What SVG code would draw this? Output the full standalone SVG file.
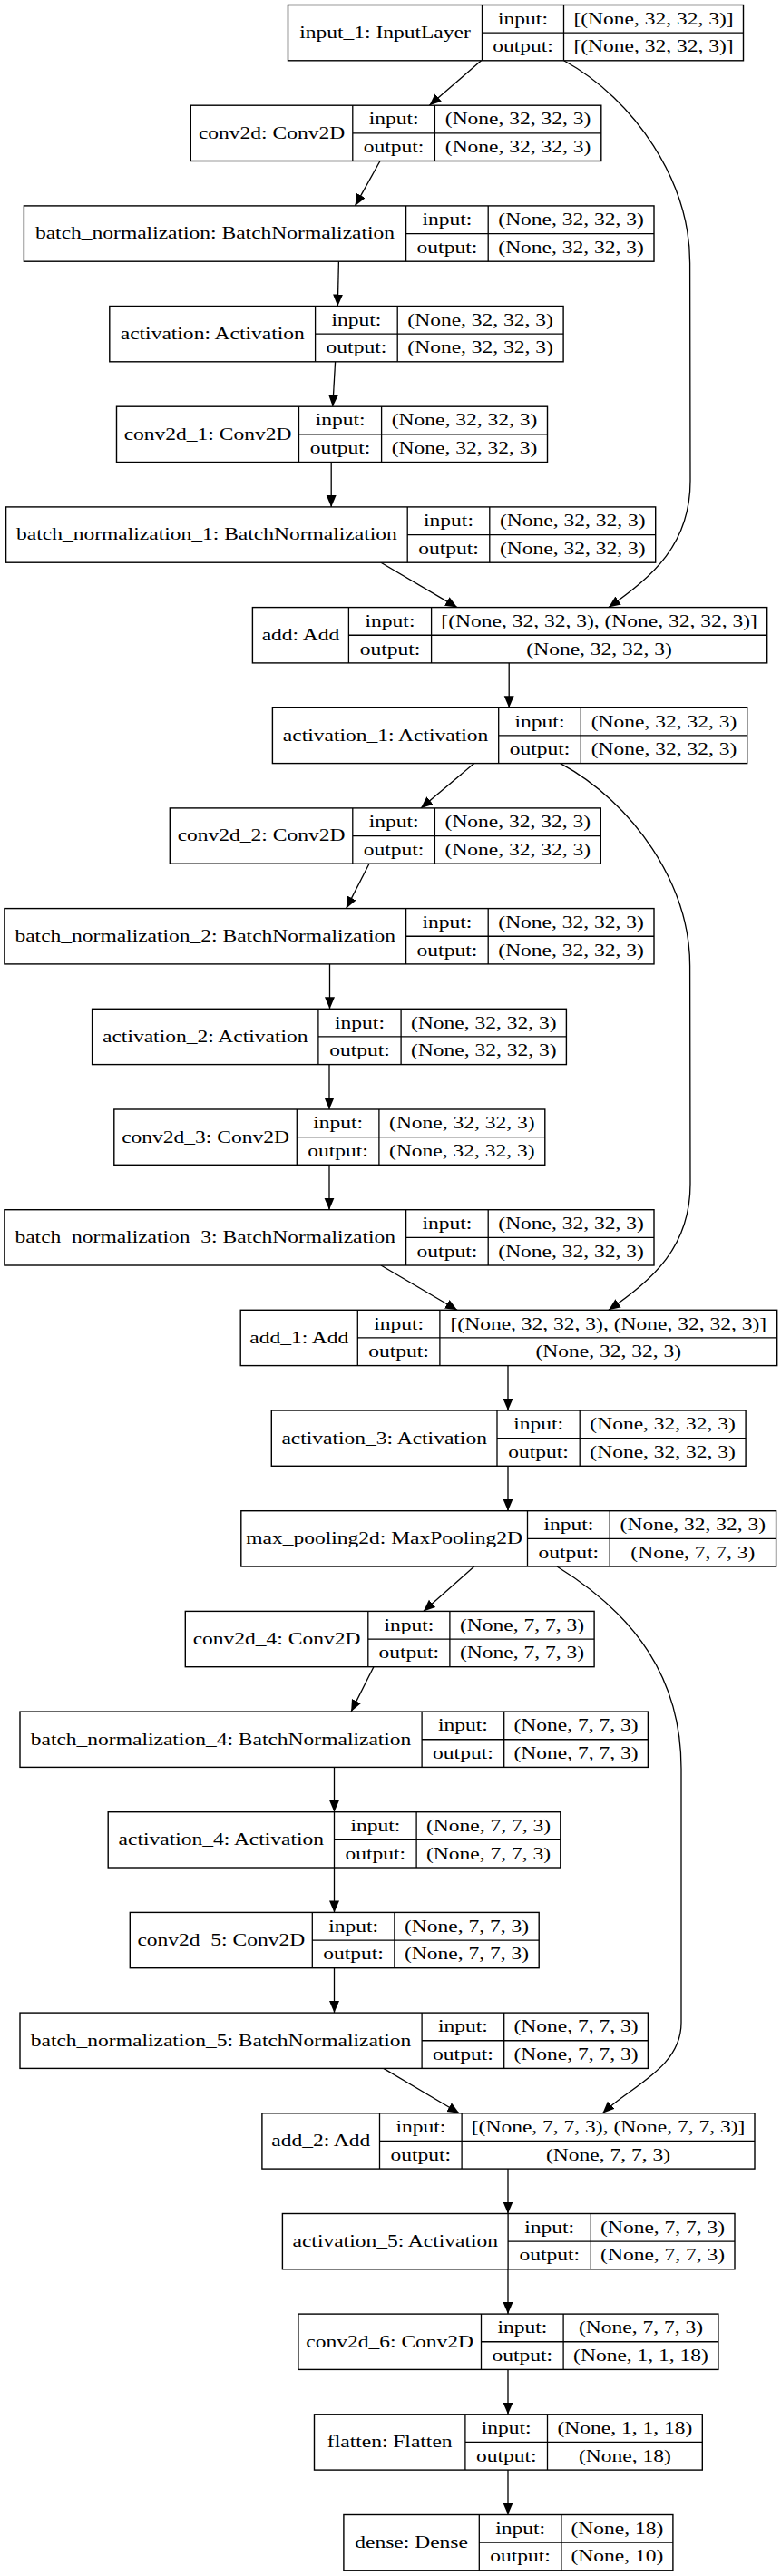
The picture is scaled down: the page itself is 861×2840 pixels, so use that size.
<svg xmlns="http://www.w3.org/2000/svg" width="861" height="2840" viewBox="0 0 861 2840">
<style>
.n rect{fill:#fff;stroke:#000;stroke-width:1.4}
.n path{fill:none;stroke:#000;stroke-width:1.3}
text{font-family:"Liberation Serif","Times New Roman",serif;font-size:19.2px;text-anchor:middle;fill:#000}
#edges path{fill:none;stroke:#000;stroke-width:1.3;marker-end:url(#ah)}
</style>
<defs>
<marker id="ah" markerWidth="14" markerHeight="12" refX="13" refY="5.5" orient="auto" markerUnits="userSpaceOnUse"><path d="M0,0L13,5.5L0,11z" fill="#000"/></marker>
</defs>
<rect width="861" height="2840" fill="#fff"/>
<g id="edges">
<path d="M530.5,66.8L473.4,116.2"/>
<path d="M621.6,66.8C700,110 760.6,200 760.6,290L761,530C761,600 720,635 671,669.6"/>
<path d="M419,177.5L391.5,226.9"/>
<path d="M373.4,288.2L372.3,337.5"/>
<path d="M369.6,398.8L366.8,448.2"/>
<path d="M365.2,509.5L365.2,558.9"/>
<path d="M420,620.2L504,669.6"/>
<path d="M561.2,730.9L561.2,780.3"/>
<path d="M522.8,841.6L464,890.9"/>
<path d="M617.8,841.6C698,885 760.6,975 760.6,1065L761,1305C761,1375 720,1410 671,1444.3"/>
<path d="M407,952.2L381.7,1001.6"/>
<path d="M363.5,1062.9L363.5,1112.3"/>
<path d="M363,1173.6L363,1223"/>
<path d="M363,1284.3L363,1333.7"/>
<path d="M420,1395L504,1444.3"/>
<path d="M560,1505.6L560,1555"/>
<path d="M560,1616.3L560,1665.7"/>
<path d="M522.8,1727L466.8,1776.4"/>
<path d="M614,1727C700,1780 751,1850 751,1950L751,2230C751,2280 695,2300 664.4,2329.8"/>
<path d="M411.9,1837.7L387.1,1887.1"/>
<path d="M368.5,1948.4L368.5,1997.7"/>
<path d="M368.5,2059L368.5,2108.4"/>
<path d="M368.5,2169.7L368.5,2219.1"/>
<path d="M422.8,2280.4L506.3,2329.8"/>
<path d="M560,2391.1L560,2440.5"/>
<path d="M560,2501.8L560,2551.1"/>
<path d="M560,2612.4L560,2661.8"/>
<path d="M560,2723.1L560,2772.5"/>
</g>
<g id="input_1" class="n" transform="translate(0,5.5)"><rect x="317.5" y="0" width="502" height="61.3"/><path d="M531.5,0V61.3M621.5,0V61.3M531.5,30.65H819.5"/>
<text transform="translate(424.5,36.5) scale(1.225,1)">input_1: InputLayer</text><text transform="translate(576.5,21.2) scale(1.225,1)">input:</text><text transform="translate(576.5,51.9) scale(1.225,1)">output:</text><text transform="translate(720.5,21.2) scale(1.225,1)">[(None, 32, 32, 3)]</text><text transform="translate(720.5,51.9) scale(1.225,1)">[(None, 32, 32, 3)]</text></g>
<g id="conv2d" class="n" transform="translate(0,116.2)"><rect x="210.3" y="0" width="452.5" height="61.3"/><path d="M388.8,0V61.3M479.4,0V61.3M388.8,30.65H662.8"/>
<text transform="translate(299.55,36.5) scale(1.225,1)">conv2d: Conv2D</text><text transform="translate(434.1,21.2) scale(1.225,1)">input:</text><text transform="translate(434.1,51.9) scale(1.225,1)">output:</text><text transform="translate(571.1,21.2) scale(1.225,1)">(None, 32, 32, 3)</text><text transform="translate(571.1,51.9) scale(1.225,1)">(None, 32, 32, 3)</text></g>
<g id="batch_normalization" class="n" transform="translate(0,226.9)"><rect x="26.4" y="0" width="694.6" height="61.3"/><path d="M447.6,0V61.3M538.2,0V61.3M447.6,30.65H721"/>
<text transform="translate(237,36.5) scale(1.225,1)">batch_normalization: BatchNormalization</text><text transform="translate(492.9,21.2) scale(1.225,1)">input:</text><text transform="translate(492.9,51.9) scale(1.225,1)">output:</text><text transform="translate(629.6,21.2) scale(1.225,1)">(None, 32, 32, 3)</text><text transform="translate(629.6,51.9) scale(1.225,1)">(None, 32, 32, 3)</text></g>
<g id="activation" class="n" transform="translate(0,337.5)"><rect x="120.8" y="0" width="500.3" height="61.3"/><path d="M347.6,0V61.3M438.2,0V61.3M347.6,30.65H621.1"/>
<text transform="translate(234.2,36.5) scale(1.225,1)">activation: Activation</text><text transform="translate(392.9,21.2) scale(1.225,1)">input:</text><text transform="translate(392.9,51.9) scale(1.225,1)">output:</text><text transform="translate(529.65,21.2) scale(1.225,1)">(None, 32, 32, 3)</text><text transform="translate(529.65,51.9) scale(1.225,1)">(None, 32, 32, 3)</text></g>
<g id="conv2d_1" class="n" transform="translate(0,448.2)"><rect x="128.5" y="0" width="475" height="61.3"/><path d="M329.5,0V61.3M420.6,0V61.3M329.5,30.65H603.5"/>
<text transform="translate(229,36.5) scale(1.225,1)">conv2d_1: Conv2D</text><text transform="translate(375.05,21.2) scale(1.225,1)">input:</text><text transform="translate(375.05,51.9) scale(1.225,1)">output:</text><text transform="translate(512.05,21.2) scale(1.225,1)">(None, 32, 32, 3)</text><text transform="translate(512.05,51.9) scale(1.225,1)">(None, 32, 32, 3)</text></g>
<g id="batch_normalization_1" class="n" transform="translate(0,558.9)"><rect x="6.6" y="0" width="716.1" height="61.3"/><path d="M449.2,0V61.3M539.8,0V61.3M449.2,30.65H722.7"/>
<text transform="translate(227.9,36.5) scale(1.225,1)">batch_normalization_1: BatchNormalization</text><text transform="translate(494.5,21.2) scale(1.225,1)">input:</text><text transform="translate(494.5,51.9) scale(1.225,1)">output:</text><text transform="translate(631.25,21.2) scale(1.225,1)">(None, 32, 32, 3)</text><text transform="translate(631.25,51.9) scale(1.225,1)">(None, 32, 32, 3)</text></g>
<g id="add" class="n" transform="translate(0,669.6)"><rect x="278.4" y="0" width="567.3" height="61.3"/><path d="M384.4,0V61.3M475.6,0V61.3M384.4,30.65H845.7"/>
<text transform="translate(331.4,36.5) scale(1.225,1)">add: Add</text><text transform="translate(430,21.2) scale(1.225,1)">input:</text><text transform="translate(430,51.9) scale(1.225,1)">output:</text><text transform="translate(660.65,21.2) scale(1.225,1)">[(None, 32, 32, 3), (None, 32, 32, 3)]</text><text transform="translate(660.65,51.9) scale(1.225,1)">(None, 32, 32, 3)</text></g>
<g id="activation_1" class="n" transform="translate(0,780.3)"><rect x="300.4" y="0" width="523.3" height="61.3"/><path d="M549.7,0V61.3M640.3,0V61.3M549.7,30.65H823.7"/>
<text transform="translate(425.05,36.5) scale(1.225,1)">activation_1: Activation</text><text transform="translate(595,21.2) scale(1.225,1)">input:</text><text transform="translate(595,51.9) scale(1.225,1)">output:</text><text transform="translate(732,21.2) scale(1.225,1)">(None, 32, 32, 3)</text><text transform="translate(732,51.9) scale(1.225,1)">(None, 32, 32, 3)</text></g>
<g id="conv2d_2" class="n" transform="translate(0,890.9)"><rect x="187.3" y="0" width="475" height="61.3"/><path d="M388.8,0V61.3M479.4,0V61.3M388.8,30.65H662.3"/>
<text transform="translate(288.05,36.5) scale(1.225,1)">conv2d_2: Conv2D</text><text transform="translate(434.1,21.2) scale(1.225,1)">input:</text><text transform="translate(434.1,51.9) scale(1.225,1)">output:</text><text transform="translate(570.85,21.2) scale(1.225,1)">(None, 32, 32, 3)</text><text transform="translate(570.85,51.9) scale(1.225,1)">(None, 32, 32, 3)</text></g>
<g id="batch_normalization_2" class="n" transform="translate(0,1001.6)"><rect x="4.9" y="0" width="716.1" height="61.3"/><path d="M447.6,0V61.3M538.2,0V61.3M447.6,30.65H721"/>
<text transform="translate(226.25,36.5) scale(1.225,1)">batch_normalization_2: BatchNormalization</text><text transform="translate(492.9,21.2) scale(1.225,1)">input:</text><text transform="translate(492.9,51.9) scale(1.225,1)">output:</text><text transform="translate(629.6,21.2) scale(1.225,1)">(None, 32, 32, 3)</text><text transform="translate(629.6,51.9) scale(1.225,1)">(None, 32, 32, 3)</text></g>
<g id="activation_2" class="n" transform="translate(0,1112.3)"><rect x="101.6" y="0" width="522.8" height="61.3"/><path d="M350.9,0V61.3M442.1,0V61.3M350.9,30.65H624.4"/>
<text transform="translate(226.25,36.5) scale(1.225,1)">activation_2: Activation</text><text transform="translate(396.5,21.2) scale(1.225,1)">input:</text><text transform="translate(396.5,51.9) scale(1.225,1)">output:</text><text transform="translate(533.25,21.2) scale(1.225,1)">(None, 32, 32, 3)</text><text transform="translate(533.25,51.9) scale(1.225,1)">(None, 32, 32, 3)</text></g>
<g id="conv2d_3" class="n" transform="translate(0,1223)"><rect x="125.8" y="0" width="475" height="61.3"/><path d="M327.3,0V61.3M417.9,0V61.3M327.3,30.65H600.8"/>
<text transform="translate(226.55,36.5) scale(1.225,1)">conv2d_3: Conv2D</text><text transform="translate(372.6,21.2) scale(1.225,1)">input:</text><text transform="translate(372.6,51.9) scale(1.225,1)">output:</text><text transform="translate(509.35,21.2) scale(1.225,1)">(None, 32, 32, 3)</text><text transform="translate(509.35,51.9) scale(1.225,1)">(None, 32, 32, 3)</text></g>
<g id="batch_normalization_3" class="n" transform="translate(0,1333.7)"><rect x="4.9" y="0" width="716.1" height="61.3"/><path d="M447.6,0V61.3M538.2,0V61.3M447.6,30.65H721"/>
<text transform="translate(226.25,36.5) scale(1.225,1)">batch_normalization_3: BatchNormalization</text><text transform="translate(492.9,21.2) scale(1.225,1)">input:</text><text transform="translate(492.9,51.9) scale(1.225,1)">output:</text><text transform="translate(629.6,21.2) scale(1.225,1)">(None, 32, 32, 3)</text><text transform="translate(629.6,51.9) scale(1.225,1)">(None, 32, 32, 3)</text></g>
<g id="add_1" class="n" transform="translate(0,1444.3)"><rect x="265.2" y="0" width="591.5" height="61.3"/><path d="M394.3,0V61.3M484.9,0V61.3M394.3,30.65H856.7"/>
<text transform="translate(329.75,36.5) scale(1.225,1)">add_1: Add</text><text transform="translate(439.6,21.2) scale(1.225,1)">input:</text><text transform="translate(439.6,51.9) scale(1.225,1)">output:</text><text transform="translate(670.8,21.2) scale(1.225,1)">[(None, 32, 32, 3), (None, 32, 32, 3)]</text><text transform="translate(670.8,51.9) scale(1.225,1)">(None, 32, 32, 3)</text></g>
<g id="activation_3" class="n" transform="translate(0,1555)"><rect x="299.3" y="0" width="522.8" height="61.3"/><path d="M548,0V61.3M639.2,0V61.3M548,30.65H822.1"/>
<text transform="translate(423.65,36.5) scale(1.225,1)">activation_3: Activation</text><text transform="translate(593.6,21.2) scale(1.225,1)">input:</text><text transform="translate(593.6,51.9) scale(1.225,1)">output:</text><text transform="translate(730.65,21.2) scale(1.225,1)">(None, 32, 32, 3)</text><text transform="translate(730.65,51.9) scale(1.225,1)">(None, 32, 32, 3)</text></g>
<g id="max_pooling2d" class="n" transform="translate(0,1665.7)"><rect x="265.8" y="0" width="589.8" height="61.3"/><path d="M581.5,0V61.3M672.2,0V61.3M581.5,30.65H855.6"/>
<text transform="translate(423.65,36.5) scale(1.225,1)">max_pooling2d: MaxPooling2D</text><text transform="translate(626.85,21.2) scale(1.225,1)">input:</text><text transform="translate(626.85,51.9) scale(1.225,1)">output:</text><text transform="translate(763.9,21.2) scale(1.225,1)">(None, 32, 32, 3)</text><text transform="translate(763.9,51.9) scale(1.225,1)">(None, 7, 7, 3)</text></g>
<g id="conv2d_4" class="n" transform="translate(0,1776.4)"><rect x="204.3" y="0" width="450.8" height="61.3"/><path d="M405.8,0V61.3M495.9,0V61.3M405.8,30.65H655.1"/>
<text transform="translate(305.05,36.5) scale(1.225,1)">conv2d_4: Conv2D</text><text transform="translate(450.85,21.2) scale(1.225,1)">input:</text><text transform="translate(450.85,51.9) scale(1.225,1)">output:</text><text transform="translate(575.5,21.2) scale(1.225,1)">(None, 7, 7, 3)</text><text transform="translate(575.5,51.9) scale(1.225,1)">(None, 7, 7, 3)</text></g>
<g id="batch_normalization_4" class="n" transform="translate(0,1887.1)"><rect x="22" y="0" width="692.4" height="61.3"/><path d="M465.1,0V61.3M555.7,0V61.3M465.1,30.65H714.4"/>
<text transform="translate(243.55,36.5) scale(1.225,1)">batch_normalization_4: BatchNormalization</text><text transform="translate(510.4,21.2) scale(1.225,1)">input:</text><text transform="translate(510.4,51.9) scale(1.225,1)">output:</text><text transform="translate(635.05,21.2) scale(1.225,1)">(None, 7, 7, 3)</text><text transform="translate(635.05,51.9) scale(1.225,1)">(None, 7, 7, 3)</text></g>
<g id="activation_4" class="n" transform="translate(0,1997.7)"><rect x="119.2" y="0" width="498.6" height="61.3"/><path d="M368.5,0V61.3M459.1,0V61.3M368.5,30.65H617.8"/>
<text transform="translate(243.85,36.5) scale(1.225,1)">activation_4: Activation</text><text transform="translate(413.8,21.2) scale(1.225,1)">input:</text><text transform="translate(413.8,51.9) scale(1.225,1)">output:</text><text transform="translate(538.45,21.2) scale(1.225,1)">(None, 7, 7, 3)</text><text transform="translate(538.45,51.9) scale(1.225,1)">(None, 7, 7, 3)</text></g>
<g id="conv2d_5" class="n" transform="translate(0,2108.4)"><rect x="143.3" y="0" width="450.9" height="61.3"/><path d="M344.3,0V61.3M434.9,0V61.3M344.3,30.65H594.2"/>
<text transform="translate(243.8,36.5) scale(1.225,1)">conv2d_5: Conv2D</text><text transform="translate(389.6,21.2) scale(1.225,1)">input:</text><text transform="translate(389.6,51.9) scale(1.225,1)">output:</text><text transform="translate(514.55,21.2) scale(1.225,1)">(None, 7, 7, 3)</text><text transform="translate(514.55,51.9) scale(1.225,1)">(None, 7, 7, 3)</text></g>
<g id="batch_normalization_5" class="n" transform="translate(0,2219.1)"><rect x="22" y="0" width="692.4" height="61.3"/><path d="M465.1,0V61.3M555.7,0V61.3M465.1,30.65H714.4"/>
<text transform="translate(243.55,36.5) scale(1.225,1)">batch_normalization_5: BatchNormalization</text><text transform="translate(510.4,21.2) scale(1.225,1)">input:</text><text transform="translate(510.4,51.9) scale(1.225,1)">output:</text><text transform="translate(635.05,21.2) scale(1.225,1)">(None, 7, 7, 3)</text><text transform="translate(635.05,51.9) scale(1.225,1)">(None, 7, 7, 3)</text></g>
<g id="add_2" class="n" transform="translate(0,2329.8)"><rect x="288.9" y="0" width="543.1" height="61.3"/><path d="M418.5,0V61.3M509.1,0V61.3M418.5,30.65H832"/>
<text transform="translate(353.7,36.5) scale(1.225,1)">add_2: Add</text><text transform="translate(463.8,21.2) scale(1.225,1)">input:</text><text transform="translate(463.8,51.9) scale(1.225,1)">output:</text><text transform="translate(670.55,21.2) scale(1.225,1)">[(None, 7, 7, 3), (None, 7, 7, 3)]</text><text transform="translate(670.55,51.9) scale(1.225,1)">(None, 7, 7, 3)</text></g>
<g id="activation_5" class="n" transform="translate(0,2440.5)"><rect x="311.4" y="0" width="498.6" height="61.3"/><path d="M560.1,0V61.3M651.3,0V61.3M560.1,30.65H810"/>
<text transform="translate(435.75,36.5) scale(1.225,1)">activation_5: Activation</text><text transform="translate(605.7,21.2) scale(1.225,1)">input:</text><text transform="translate(605.7,51.9) scale(1.225,1)">output:</text><text transform="translate(730.65,21.2) scale(1.225,1)">(None, 7, 7, 3)</text><text transform="translate(730.65,51.9) scale(1.225,1)">(None, 7, 7, 3)</text></g>
<g id="conv2d_6" class="n" transform="translate(0,2551.1)"><rect x="328.9" y="0" width="463" height="61.3"/><path d="M530.5,0V61.3M621.1,0V61.3M530.5,30.65H791.9"/>
<text transform="translate(429.7,36.5) scale(1.225,1)">conv2d_6: Conv2D</text><text transform="translate(575.8,21.2) scale(1.225,1)">input:</text><text transform="translate(575.8,51.9) scale(1.225,1)">output:</text><text transform="translate(706.5,21.2) scale(1.225,1)">(None, 7, 7, 3)</text><text transform="translate(706.5,51.9) scale(1.225,1)">(None, 1, 1, 18)</text></g>
<g id="flatten" class="n" transform="translate(0,2661.8)"><rect x="346.5" y="0" width="427.8" height="61.3"/><path d="M512.9,0V61.3M603.5,0V61.3M512.9,30.65H774.3"/>
<text transform="translate(429.7,36.5) scale(1.225,1)">flatten: Flatten</text><text transform="translate(558.2,21.2) scale(1.225,1)">input:</text><text transform="translate(558.2,51.9) scale(1.225,1)">output:</text><text transform="translate(688.9,21.2) scale(1.225,1)">(None, 1, 1, 18)</text><text transform="translate(688.9,51.9) scale(1.225,1)">(None, 18)</text></g>
<g id="dense" class="n" transform="translate(0,2772.5)"><rect x="378.9" y="0" width="363" height="61.3"/><path d="M528.3,0V61.3M618.9,0V61.3M528.3,30.65H741.9"/>
<text transform="translate(453.6,36.5) scale(1.225,1)">dense: Dense</text><text transform="translate(573.6,21.2) scale(1.225,1)">input:</text><text transform="translate(573.6,51.9) scale(1.225,1)">output:</text><text transform="translate(680.4,21.2) scale(1.225,1)">(None, 18)</text><text transform="translate(680.4,51.9) scale(1.225,1)">(None, 10)</text></g>
</svg>
